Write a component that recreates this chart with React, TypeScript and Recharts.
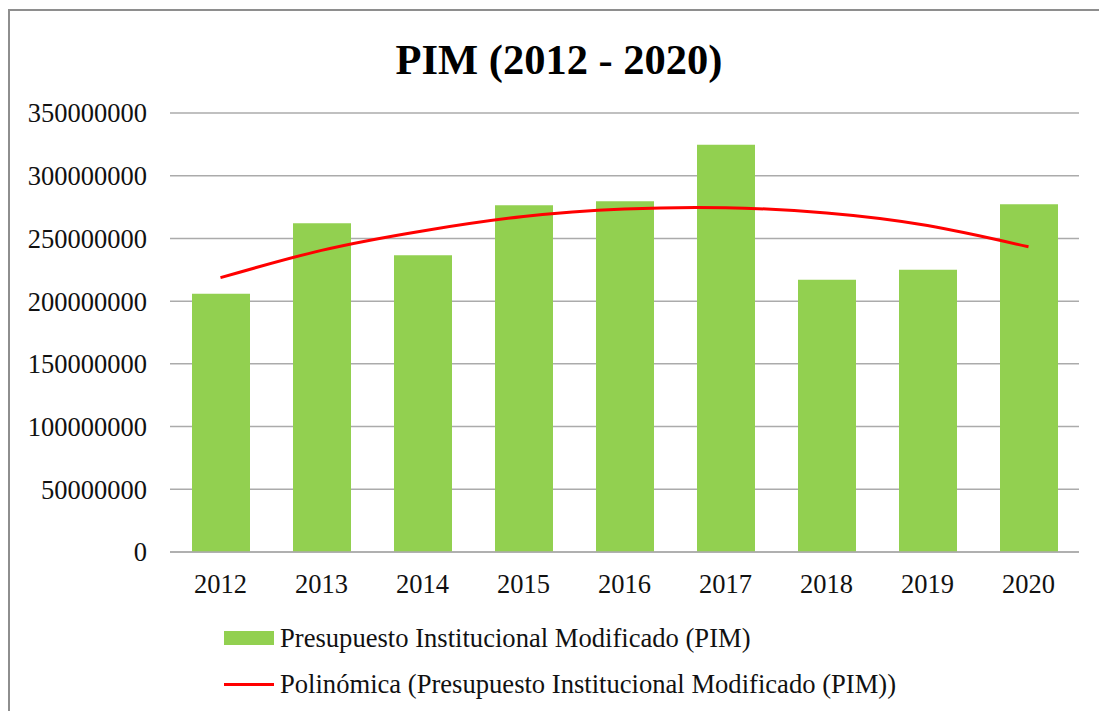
import React from "react";
import {
  ComposedChart,
  Bar,
  Line,
  XAxis,
  YAxis,
  CartesianGrid,
  Legend,
} from "recharts";

const years = ["2012", "2013", "2014", "2015", "2016", "2017", "2018", "2019", "2020"];
const pimValues = [
  205900000, 262100000, 236500000, 276500000, 279700000, 324700000, 217100000, 225100000, 277300000,
];
const trendValues = [
  218700000, 240500000, 256000000, 267500000, 273500000, 274500000, 270300000, 260300000, 243300000,
];
const yTicks = [0, 50000000, 100000000, 150000000, 200000000, 250000000, 300000000, 350000000];

const barName = "Presupuesto Institucional Modificado (PIM)";
const lineName = "Polinómica (Presupuesto Institucional Modificado (PIM))";
const titleText = "PIM (2012 - 2020)";

const data = years.map((y, i) => ({ year: y, pim: pimValues[i], trend: trendValues[i] }));

const FONT = "'Liberation Serif', 'Times New Roman', serif";
const GREEN = "#92D050";
const RED = "#FF0000";
const GRID = "#ababab";

const LegendContent = () => (
  <div style={{ fontFamily: FONT, fontSize: 26.6, color: "#111" }}>
    <div style={{ display: "flex", alignItems: "center", height: 46 }}>
      <div style={{ width: 50, height: 14, background: GREEN, marginRight: 6 }} />
      <span>{barName}</span>
    </div>
    <div style={{ display: "flex", alignItems: "center", height: 46 }}>
      <div style={{ width: 50, height: 3, background: RED, marginRight: 6 }} />
      <span>{lineName}</span>
    </div>
  </div>
);

export default function App() {
  return (
    <div style={{ position: "relative", width: 1099, height: 711, background: "#fff" }}>
      <style>{`body{margin:0;overflow:hidden;}`}</style>
      <div
        style={{
          position: "absolute",
          left: 8,
          top: 9,
          width: 1091,
          height: 702,
          borderLeft: "2px solid #8e8e8e",
          borderTop: "2px solid #8e8e8e",
          boxSizing: "border-box",
        }}
      />
      <div
        style={{
          position: "absolute",
          left: 0,
          width: 1118,
          top: 34,
          textAlign: "center",
          fontFamily: FONT,
          fontWeight: "bold",
          fontSize: 42.5,
          color: "#000",
          lineHeight: "52px",
        }}
      >
        {titleText}
      </div>
      <div style={{ position: "absolute", left: 0, top: 0 }}>
        <ComposedChart
          width={1099}
          height={711}
          data={data}
          margin={{ top: 113, right: 20, bottom: 109, left: 0 }}
        >
          <CartesianGrid horizontal={true} vertical={false} stroke={GRID} strokeWidth={1.5} />
          <XAxis
            dataKey="year"
            height={50}
            tickLine={false}
            tickSize={0}
            tickMargin={22}
            axisLine={{ stroke: GRID, strokeWidth: 1.5 }}
            tick={{ fontFamily: FONT, fontSize: 26.5, fill: "#111" }}
            interval={0}
          />
          <YAxis
            width={170}
            domain={[0, 350000000]}
            ticks={yTicks}
            interval={0}
            axisLine={false}
            tickLine={false}
            tickSize={0}
            tickMargin={23}
            tick={{ fontFamily: FONT, fontSize: 26.5, fill: "#111" }}
          />
          <Bar dataKey="pim" name={barName} fill={GREEN} barSize={58} isAnimationActive={false} />
          <Line
            dataKey="trend"
            name={lineName}
            type="natural"
            stroke={RED}
            strokeWidth={3}
            dot={false}
            activeDot={false}
            isAnimationActive={false}
          />
          <Legend
            layout="vertical"
            verticalAlign="middle"
            align="center"
            content={<LegendContent />}
            wrapperStyle={{ top: 615, left: 224, width: 820, height: 95 }}
          />
        </ComposedChart>
      </div>
    </div>
  );
}
